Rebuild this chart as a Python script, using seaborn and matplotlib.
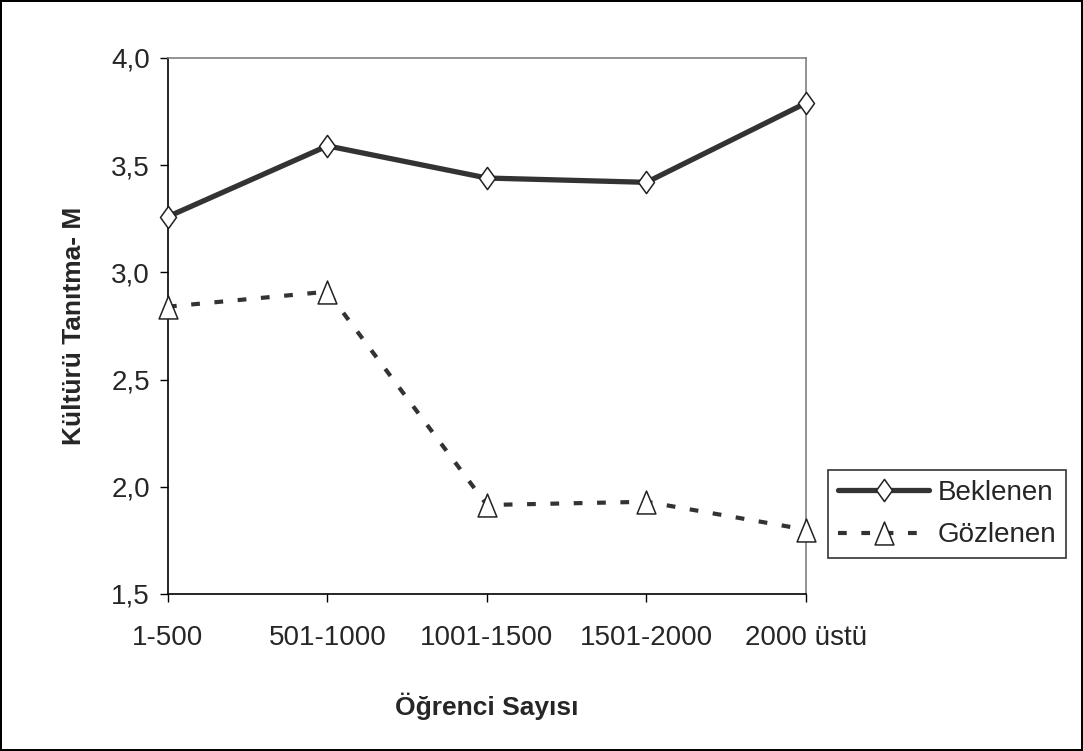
import pandas as pd
import seaborn as sns
import matplotlib.pyplot as plt
from matplotlib.path import Path

# Chart data
categories = ['1-500', '501-1000', '1001-1500', '1501-2000', '2000 üstü']
beklenen = [3.26, 3.59, 3.44, 3.42, 3.79]
gozlenen = [2.84, 2.91, 1.915, 1.93, 1.80]
y_ticks = [1.5, 2.0, 2.5, 3.0, 3.5, 4.0]
y_tick_labels = ['1,5', '2,0', '2,5', '3,0', '3,5', '4,0']

df = pd.DataFrame({
    'pos': list(range(len(categories))) * 2,
    'value': beklenen + gozlenen,
    'series': ['Beklenen'] * len(categories) + ['Gözlenen'] * len(categories),
})

# narrow diamond and triangle like the original markers
diamond = Path([(0, 1), (0.72, 0), (0, -1), (-0.72, 0), (0, 1)],
               [Path.MOVETO, Path.LINETO, Path.LINETO, Path.LINETO, Path.CLOSEPOLY])
triangle = Path([(0, 1), (0.82, -1), (-0.82, -1), (0, 1)],
                [Path.MOVETO, Path.LINETO, Path.LINETO, Path.CLOSEPOLY])

sns.set_style('ticks')
plt.rcParams['font.family'] = ['Liberation Sans', 'DejaVu Sans']

fig = plt.figure(figsize=(10.83, 7.51), dpi=100)
fig.patch.set_edgecolor('black')
fig.patch.set_linewidth(1.5)
ax = fig.add_axes([0.1551, 0.2091, 0.5891, 0.7137])

line_color = '#333333'
b = df[df['series'] == 'Beklenen']
g = df[df['series'] == 'Gözlenen']
sns.lineplot(data=b, x='pos', y='value', ax=ax, color=line_color, lw=3.8,
             marker=diamond, markersize=16, markerfacecolor='white',
             markeredgecolor='#222222', markeredgewidth=1.1, label='Beklenen',
             zorder=3, clip_on=False)
sns.lineplot(data=g, x='pos', y='value', ax=ax, color=line_color, lw=3.0,
             linestyle=(0, (2.1, 3.5)),
             marker=triangle, markersize=16.5, markerfacecolor='white',
             markeredgecolor='#222222', markeredgewidth=1.1, label='Gözlenen',
             zorder=3, clip_on=False)

ax.set_xlim(0, len(categories) - 1)
ax.set_ylim(1.5, 4.0)
ax.set_xticks(range(len(categories)))
ax.set_xticklabels(categories, fontsize=20)
ax.set_yticks(y_ticks)
ax.set_yticklabels(y_tick_labels, fontsize=20)
ax.tick_params(axis='x', length=6, width=1, color='black', pad=16)
ax.tick_params(axis='y', length=6, width=1, color='black', pad=7)

for side in ['top', 'right']:
    ax.spines[side].set_color('#808080')
    ax.spines[side].set_linewidth(1.2)
for side in ['left', 'bottom']:
    ax.spines[side].set_color('black')
    ax.spines[side].set_linewidth(1.2)

ax.set_xlabel('Öğrenci Sayısı', fontsize=19, fontweight='bold', labelpad=30)
ax.set_ylabel('Kültürü Tanıtma- M', fontsize=19, fontweight='bold', labelpad=18)

leg = ax.legend(loc='upper left', bbox_to_anchor=(0.7645, 0.3742),
                bbox_transform=fig.transFigure, fontsize=20, frameon=True,
                fancybox=False, edgecolor='black', handlelength=3.3,
                handletextpad=0.3, borderpad=0.35, labelspacing=0.6,
                borderaxespad=0)
leg.get_frame().set_linewidth(1.2)

plt.savefig('out.png', dpi=100)
